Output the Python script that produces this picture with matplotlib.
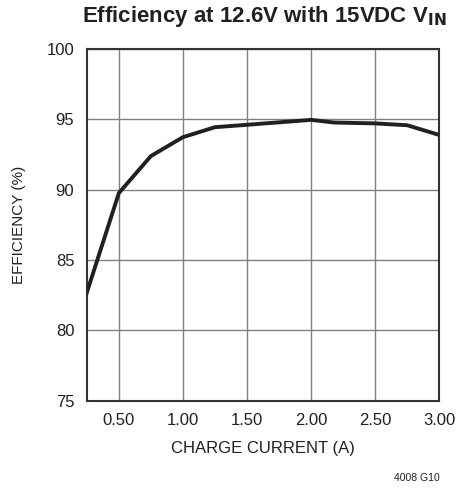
import matplotlib
matplotlib.use("Agg")
import matplotlib.pyplot as plt

current = [0.25, 0.50, 0.75, 1.00, 1.25, 1.50, 2.00, 2.18, 2.50, 2.75, 3.00]
efficiency = [82.68, 89.75, 92.38, 93.72, 94.43, 94.6, 94.95, 94.76, 94.7, 94.57, 93.88]
xticks = [0.50, 1.00, 1.50, 2.00, 2.50, 3.00]
xticklabels = ["0.50", "1.00", "1.50", "2.00", "2.50", "3.00"]
yticks = [75, 80, 85, 90, 95, 100]

fam = ["Liberation Sans Narrow", "Liberation Sans", "DejaVu Sans"]
plt.rcParams['font.family'] = fam

fig = plt.figure(figsize=(4.57, 4.88), dpi=100)
ax = fig.add_axes([0.19, 0.179, 0.771, 0.721])
ax.plot(current, efficiency, color="#231f20", lw=2.8, solid_joinstyle="miter", zorder=3)
ax.set_xlim(0.25, 3.0)
ax.set_ylim(75, 100)
ax.set_xticks(xticks)
ax.set_xticklabels(xticklabels)
ax.set_yticks(yticks)
ax.grid(True, color="#808080", lw=1.0)
ax.tick_params(length=0, labelsize=12, pad=9, colors="#231f20")
for s in ax.spines.values():
    s.set_color("#333333")
    s.set_linewidth(1.5)
ax.set_xlabel("CHARGE CURRENT (A)", fontsize=12, color="#231f20", labelpad=9)
ax.set_ylabel("EFFICIENCY (%)", fontsize=11, color="#231f20", labelpad=15)
fig.text(0.578, 0.966, r"Efficiency at 12.6V with 15VDC V$_{\mathbf{IN}}$", ha="center", va="center",
         fontsize=16, fontweight="bold", color="#231f20")
fig.text(0.912, 0.021, "4008 G10", ha="center", va="center", fontsize=7.5, color="#231f20")
fig.savefig("out.png", dpi=100)
